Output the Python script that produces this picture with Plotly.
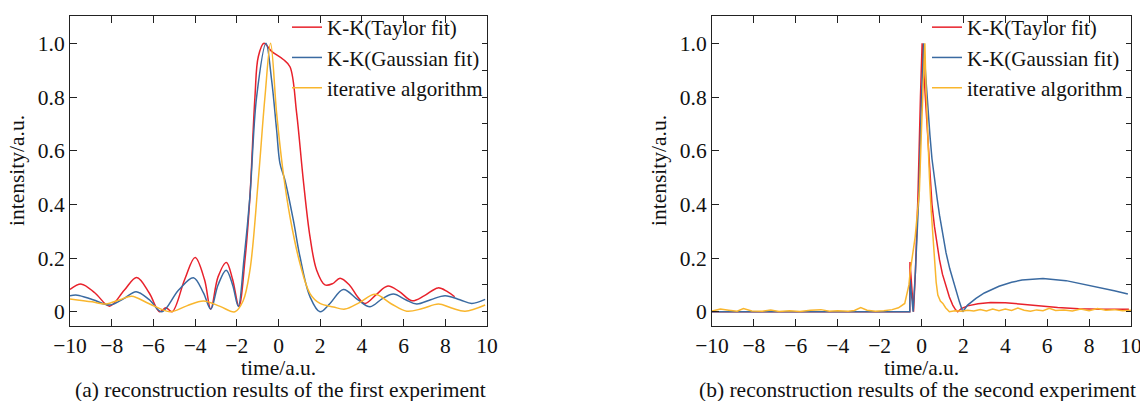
import plotly.graph_objects as go

# ---------------- data: (a) first experiment ----------------
a_taylor_x = [-10, -9.45, -8.8, -8.1, -7.4, -6.8, -6.2, -5.7, -5.4, -5.1, -4.5, -4.0, -3.55, -3.25,
              -2.9, -2.5, -2.2, -1.9, -1.6, -1.37, -1.13, -0.97, -0.7, -0.33, 0.23, 0.55, 0.87, 1.19,
              1.51, 1.83, 2.23, 2.6, 2.95, 3.4, 3.8, 4.15, 4.7, 5.25, 5.8, 6.4, 7.0, 7.65, 8.1, 8.45]
a_taylor_y = [0.083, 0.103, 0.07, 0.021, 0.08, 0.128, 0.07, 0.0, 0.015, 0.0, 0.12, 0.202, 0.12, 0.009,
              0.13, 0.184, 0.12, 0.02, 0.2, 0.43, 0.80, 0.95, 1.0, 0.97, 0.94, 0.913, 0.74, 0.49,
              0.28, 0.155, 0.1, 0.105, 0.125, 0.1, 0.055, 0.031, 0.065, 0.096, 0.075, 0.041, 0.06, 0.089, 0.075, 0.056]

a_gauss_x = [-10, -9.65, -8.9, -8.08, -7.4, -6.83, -6.2, -5.6, -4.8, -4.08, -3.6, -3.25, -2.9, -2.51,
             -2.2, -1.93, -1.65, -1.37, -1.05, -0.6, -0.33, -0.09, 0.07, 0.31, 0.71, 1.03, 1.51, 1.99,
             2.47, 3.11, 3.8, 4.39, 5.0, 5.51, 6.1, 6.63, 7.3, 7.99, 8.7, 9.27, 9.91]
a_gauss_y = [0.06, 0.062, 0.045, 0.025, 0.05, 0.075, 0.045, 0.0, 0.08, 0.127, 0.07, 0.01, 0.1, 0.155,
             0.1, 0.02, 0.2, 0.43, 0.8, 1.0, 0.863, 0.677, 0.553, 0.49, 0.342, 0.205, 0.056, 0.0,
             0.031, 0.083, 0.045, 0.019, 0.05, 0.066, 0.045, 0.029, 0.045, 0.06, 0.045, 0.031, 0.046]

a_iter_x = [-10, -8.93, -8.29, -7.6, -7.04, -6.2, -5.2, -4.4, -3.6, -2.8, -2.09, -1.7, -1.37, -0.97,
            -0.65, -0.38, -0.09, 0.23, 0.55, 1.03, 1.51, 1.99, 2.63, 3.19, 3.9, 4.63, 5.4, 6.15,
            6.9, 7.67, 8.3, 8.95, 9.91]
a_iter_y = [0.048, 0.037, 0.029, 0.045, 0.058, 0.03, 0.0, 0.022, 0.04, 0.02, 0.0, 0.04, 0.155, 0.49,
            0.80, 1.0, 0.74, 0.516, 0.354, 0.18, 0.068, 0.031, 0.018, 0.01, 0.035, 0.065, 0.03, 0.002,
            0.012, 0.029, 0.014, 0.002, 0.025]

# ---------------- data: (b) second experiment ----------------
b_taylor_x = [-10, -0.56, -0.55, -0.38, -0.29, -0.17, -0.05, 0.03, 0.12, 0.22, 0.3, 0.38, 0.5, 0.62,
              0.74, 0.86, 1.0, 1.17, 1.33, 1.49, 1.62, 1.73, 1.9, 2.2, 2.7, 3.3, 4.0, 4.8, 5.6, 6.5,
              7.5, 8.5, 9.9]
b_taylor_y = [0.0, 0.0, 0.185, 0.0, 0.15, 0.43, 0.8, 1.0, 0.88, 0.75, 0.62, 0.52, 0.4, 0.317,
              0.25, 0.193, 0.14, 0.093, 0.055, 0.025, 0.008, 0.0, 0.012, 0.022, 0.03, 0.035, 0.034,
              0.028, 0.022, 0.016, 0.011, 0.009, 0.009]

b_gauss_x = [-10, -0.56, -0.55, -0.4, -0.29, -0.13, 0.0, 0.1, 0.2, 0.3, 0.4, 0.5, 0.62, 0.75, 0.86,
             1.0, 1.17, 1.35, 1.49, 1.65, 1.81, 1.97, 2.2, 2.6, 3.0, 3.7, 4.3, 4.8, 5.8, 6.9, 7.7,
             8.5, 9.2, 9.85]
b_gauss_y = [0.0, 0.0, 0.122, 0.0, 0.15, 0.43, 0.8, 1.0, 0.88, 0.76, 0.66, 0.57, 0.49, 0.42, 0.36,
             0.29, 0.22, 0.16, 0.12, 0.075, 0.037, 0.0, 0.025, 0.05, 0.07, 0.095, 0.11, 0.118, 0.124,
             0.116, 0.103, 0.091, 0.078, 0.066]

b_iter_x = [-10, -9.6, -9.2, -8.8, -8.5, -8.1, -7.6, -7.2, -6.8, -6.3, -5.8, -5.3, -4.8, -4.4, -4.0,
            -3.5, -3.2, -2.9, -2.6, -2.2, -1.8, -1.4, -1.1, -0.8, -0.6, -0.54, -0.3, -0.1, 0.0, 0.08,
            0.16, 0.22, 0.3, 0.38, 0.46, 0.54, 0.62, 0.7, 0.78, 0.9, 1.02, 1.15, 1.33, 1.6, 1.9, 2.2,
            2.5, 2.8, 3.1, 3.4, 3.7, 4.0, 4.3, 4.6, 4.9, 5.2, 5.5, 5.8, 6.1, 6.4, 6.8, 7.2, 7.6, 8.0,
            8.4, 8.8, 9.2, 9.6, 10]
b_iter_y = [0.003, 0.01, 0.006, 0.002, 0.012, 0.003, 0.002, 0.007, 0.001, 0.004, 0.001, 0.006, 0.008,
            0.002, 0.004, 0.002, 0.005, 0.016, 0.006, 0.002, 0.004, 0.008, 0.015, 0.031, 0.1, 0.15,
            0.28, 0.45, 0.68, 0.88, 1.0, 0.82, 0.627, 0.5, 0.379, 0.28, 0.193, 0.11, 0.062, 0.04,
            0.031, 0.015, 0.0, 0.004, 0.002, 0.006, 0.003, 0.008, 0.003, 0.01, 0.004, 0.01, 0.005,
            0.014, 0.006, 0.002, 0.007, 0.004, 0.013, 0.005, 0.007, 0.003, 0.01, 0.004, 0.012, 0.006,
            0.008, 0.004, 0.006]

series_names = ["K-K(Taylor fit)", "K-K(Gaussian fit)", "iterative algorithm"]
colors = ["#e8212b", "#3a6aa1", "#f9b62d"]

x_tickvals = [-10, -8, -6, -4, -2, 0, 2, 4, 6, 8, 10]
y_tickvals = [0, 0.2, 0.4, 0.6, 0.8, 1.0]
y_ticktext = ["0", "0.2", "0.4", "0.6", "0.8", "1.0"]
captions = ["(a) reconstruction results of the first experiment",
            "(b) reconstruction results of the second experiment"]

FONT = "Liberation Serif"
FS = 21.5
W, H = 1140, 401

fig = go.Figure()

panel_a = [(a_taylor_x, a_taylor_y), (a_gauss_x, a_gauss_y), (a_iter_x, a_iter_y)]
panel_b = [(b_taylor_x, b_taylor_y), (b_gauss_x, b_gauss_y), (b_iter_x, b_iter_y)]

for (xs, ys), name, c in zip(panel_a, series_names, colors):
    fig.add_trace(go.Scatter(x=xs, y=ys, name=name, mode="lines",
                             line=dict(color=c, width=1.5, shape="spline", smoothing=1.0),
                             xaxis="x", yaxis="y", legend="legend"))
for (xs, ys), name, c in zip(panel_b, series_names, colors):
    fig.add_trace(go.Scatter(x=xs, y=ys, name=name, mode="lines",
                             line=dict(color=c, width=1.5, shape="linear"),
                             xaxis="x2", yaxis="y2", legend="legend2"))
# empty traces so the right-side minor-tick axes get drawn
fig.add_trace(go.Scatter(x=[], y=[], xaxis="x", yaxis="y3", showlegend=False, hoverinfo="skip"))
fig.add_trace(go.Scatter(x=[], y=[], xaxis="x2", yaxis="y4", showlegend=False, hoverinfo="skip"))

px_l = [70, 712]
px_r = [487, 1131]
top_px, bot_px = 15.7, 326
ydom = [1 - bot_px / H, 1 - top_px / H]
yr = [-0.053, 1.103]

tickfont = dict(family=FONT, size=FS, color="#111")
common_x = dict(range=[-10, 10], tickvals=x_tickvals, ticks="inside", ticklen=7, tickwidth=1,
                tickcolor="#222", showline=True, linecolor="#222", linewidth=1, mirror="ticks",
                showgrid=False, zeroline=False, tickfont=tickfont, automargin=False,
                ticklabeloverflow="allow")
common_y = dict(range=yr, tickvals=y_tickvals, ticktext=y_ticktext, ticks="inside", ticklen=7,
                tickwidth=1, tickcolor="#222", showline=True, linecolor="#222", linewidth=1,
                mirror=True, showgrid=False, zeroline=False, tickfont=tickfont, automargin=False)
right_minor = dict(range=yr, dtick=0.1, tick0=0, ticks="inside", ticklen=5, tickwidth=1,
                   tickcolor="#222", showticklabels=False, showgrid=False, zeroline=False,
                   showline=False, side="right", automargin=False)

leg_font = dict(family=FONT, size=21, color="#111")
fig.update_layout(
    width=W, height=H, margin=dict(l=0, r=0, t=0, b=0),
    paper_bgcolor="white", plot_bgcolor="white",
    font=dict(family=FONT, size=FS, color="#111"),
    xaxis=dict(domain=[px_l[0] / W, px_r[0] / W], anchor="y", **common_x),
    yaxis=dict(domain=ydom, anchor="x", **common_y),
    xaxis2=dict(domain=[px_l[1] / W, px_r[1] / W], anchor="y2", **common_x),
    yaxis2=dict(domain=ydom, anchor="x2", **common_y),
    yaxis3=dict(overlaying="y", anchor="x", **right_minor),
    yaxis4=dict(overlaying="y2", anchor="x2", **right_minor),
    legend=dict(x=287 / W, y=1 - 7 / H, xanchor="left", yanchor="top",
                bgcolor="rgba(0,0,0,0)", font=leg_font, tracegroupgap=0, itemwidth=30),
    legend2=dict(x=927 / W, y=1 - 7 / H, xanchor="left", yanchor="top",
                 bgcolor="rgba(0,0,0,0)", font=leg_font, tracegroupgap=0, itemwidth=30),
    showlegend=True,
)

ann = []
for i in range(2):
    cx = (px_l[i] + px_r[i]) / 2
    ann.append(dict(text="time/a.u.", x=cx / W, y=1 - 368 / H, xref="paper", yref="paper",
                    showarrow=False, xanchor="center", yanchor="middle",
                    font=dict(family=FONT, size=FS, color="#111")))
    ann.append(dict(text="intensity/a.u.", x=(px_l[i] - 53) / W, y=1 - 171 / H, xref="paper",
                    yref="paper", showarrow=False, textangle=-90, xanchor="center",
                    yanchor="middle", font=dict(family=FONT, size=FS, color="#111")))
cap_x = [280, 918]
for i in range(2):
    ann.append(dict(text=captions[i], x=cap_x[i] / W, y=1 - 390 / H, xref="paper", yref="paper",
                    showarrow=False, xanchor="center", yanchor="middle",
                    font=dict(family=FONT, size=FS, color="#111")))
fig.update_layout(annotations=ann)

fig.write_html("out.html")
